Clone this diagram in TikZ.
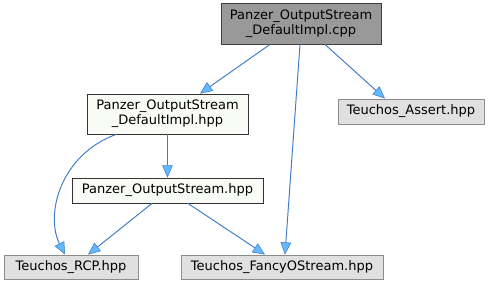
\documentclass[tikz,border=0pt]{standalone}
\usepackage{fontspec}
\setmainfont{DejaVu Sans}
\usetikzlibrary{arrows.meta}

\definecolor{edgeblue}{HTML}{3F7CC4}
\definecolor{tipblue}{HTML}{63B8FF}
\definecolor{srcgray}{HTML}{999999}
\definecolor{extgray}{HTML}{E0E0E0}
\definecolor{hdrfill}{HTML}{F9FBF7}

\begin{document}
\begin{tikzpicture}[x=0.02cm, y=-0.02cm,
    file/.style={rectangle, draw=black!80, line width=0.5pt, inner sep=0pt,
        align=center, font=\fontsize{7.4}{8.6}\selectfont},
    source/.style={file, fill=srcgray, draw=black!75},
    header/.style={file, fill=hdrfill},
    extern/.style={file, fill=extgray, draw=black!45},
    dep/.style={draw=edgeblue, line width=0.55pt,
        -{Triangle[length=7pt, width=6pt, fill=tipblue, color=edgeblue, line width=0.3pt]}}]

    \useasboundingbox (0,0) rectangle (495,285);

    % the .cpp and what it includes
    \node[source, minimum width=3.2cm, minimum height=0.82cm] (implcpp) at (301,23.5)
        {Panzer\_OutputStream\\\_DefaultImpl.cpp};
    \node[header, minimum width=3.22cm, minimum height=0.8cm] (implhpp) at (167.5,114)
        {Panzer\_OutputStream\\\_DefaultImpl.hpp};
    \node[extern, minimum width=2.92cm, minimum height=0.5cm] (assert) at (411,111.5)
        {Teuchos\_Assert.hpp};
    \node[header, minimum width=3.82cm, minimum height=0.5cm] (stream) at (167.5,190.5)
        {Panzer\_OutputStream.hpp};
    \node[extern, minimum width=2.68cm, minimum height=0.48cm] (rcp) at (71,267)
        {Teuchos\_RCP.hpp};
    \node[extern, minimum width=4.04cm, minimum height=0.48cm] (fancy) at (282,267)
        {Teuchos\_FancyOStream.hpp};

    \draw[dep] (implcpp.south -| 270,0) -- (implhpp.north -| 200,0);
    \draw[dep] (implcpp.south -| 325,0) -- (assert.north -| 385,0);
    \draw[dep] (implcpp.south -| 300,0) -- (fancy.north -| 285,0);
    \draw[dep] (implhpp.south -| 116,0) .. controls (60,155) and (45,215) .. (rcp.north -| 65,0);
    \draw[dep] (implhpp) -- (stream);
    \draw[dep] (stream.south -| 152,0) -- (rcp.north -| 88,0);
    \draw[dep] (stream.south -| 188,0) -- (fancy.north -| 265,0);
\end{tikzpicture}
\end{document}
